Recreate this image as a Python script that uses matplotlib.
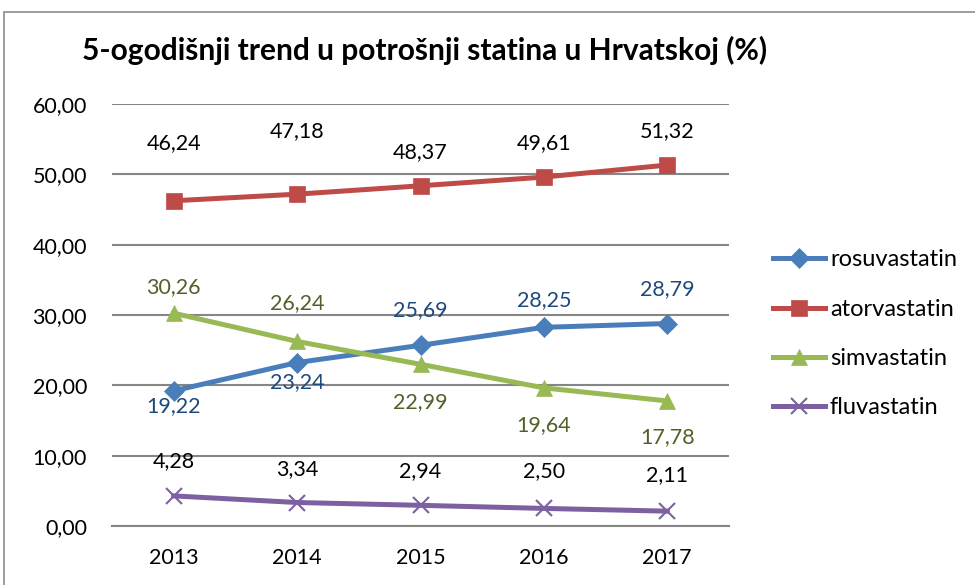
import matplotlib.pyplot as plt
from matplotlib.patches import Rectangle

# data
years = ["2013", "2014", "2015", "2016", "2017"]
rosuvastatin = [19.22, 23.24, 25.69, 28.25, 28.79]
atorvastatin = [46.24, 47.18, 48.37, 49.61, 51.32]
simvastatin = [30.26, 26.24, 22.99, 19.64, 17.78]
fluvastatin = [4.28, 3.34, 2.94, 2.50, 2.11]

# label offsets in pixels (negative = above the point, as in the original)
ros_off = [15, 20, -35, -27, -34]
ator_off = [-58, -63, -34, -34, -34]
sim_off = [-26, -38, 38, 37, 36]
flu_off = [-35, -33, -34, -37, -36]

plt.rcParams['font.family'] = ['Lato', 'DejaVu Sans']

fig = plt.figure(figsize=(9.75, 5.85), dpi=100)
fig.patches.append(Rectangle((4 / 975, -0.1), 1.2, 1 - 12 / 585 + 0.1,
                             transform=fig.transFigure, fill=False,
                             edgecolor='#8c8c8c', linewidth=1.2))
ax = fig.add_axes([112 / 975, 1 - 526 / 585, 617 / 975, 422 / 585])

x = range(len(years))
series = [
    ("rosuvastatin", rosuvastatin, '#4A7EBB', 'D', 10, '#1F497D', ros_off),
    ("atorvastatin", atorvastatin, '#BE4B48', 's', 11, 'black', ator_off),
    ("simvastatin", simvastatin, '#98B954', '^', 12, '#4F6228', sim_off),
    ("fluvastatin", fluvastatin, '#7D60A0', 'x', 12, 'black', flu_off),
]
for name, vals, col, mk, ms, lcol, offs in series:
    ax.plot(x, vals, color=col, linewidth=3.6, marker=mk, markersize=ms,
            markeredgewidth=1.5 if mk == 'x' else 0.5, markeredgecolor=col,
            label=name, zorder=3)
    for i, v in enumerate(vals):
        ax.annotate(f"{v:.2f}".replace('.', ','), (i, v), xytext=(0, -offs[i]),
                    textcoords='offset pixels', ha='center', va='center',
                    fontsize=15.5, color=lcol)

ax.set_xlim(-0.5, 4.5)
ax.set_ylim(0, 60)
ax.set_yticks(range(0, 61, 10))
ax.set_yticklabels([f"{t},00" for t in range(0, 61, 10)])
ax.set_xticks(list(x))
ax.set_xticklabels(years)
ax.tick_params(axis='both', length=0, labelsize=15.5)
ax.tick_params(axis='y', pad=18)
ax.tick_params(axis='x', pad=16)
ax.grid(axis='y', color='#868686', linewidth=1.5)
ax.set_axisbelow(True)
for s in ['top', 'right', 'left']:
    ax.spines[s].set_visible(False)
ax.spines['bottom'].set_color('#868686')
ax.spines['bottom'].set_linewidth(1.5)

fig.text(82 / 975, 1 - 50 / 585, "5-ogodišnji trend u potrošnji statina u Hrvatskoj (%)",
         fontsize=21.5, fontweight='bold', va='center', ha='left')

fig.legend(*ax.get_legend_handles_labels(), loc='center left',
           bbox_to_anchor=(752 / 975, 1 - 334 / 585), frameon=False,
           fontsize=17, handlelength=2.2, handletextpad=0.2, labelspacing=1.2)

fig.savefig("out.png", dpi=100)
